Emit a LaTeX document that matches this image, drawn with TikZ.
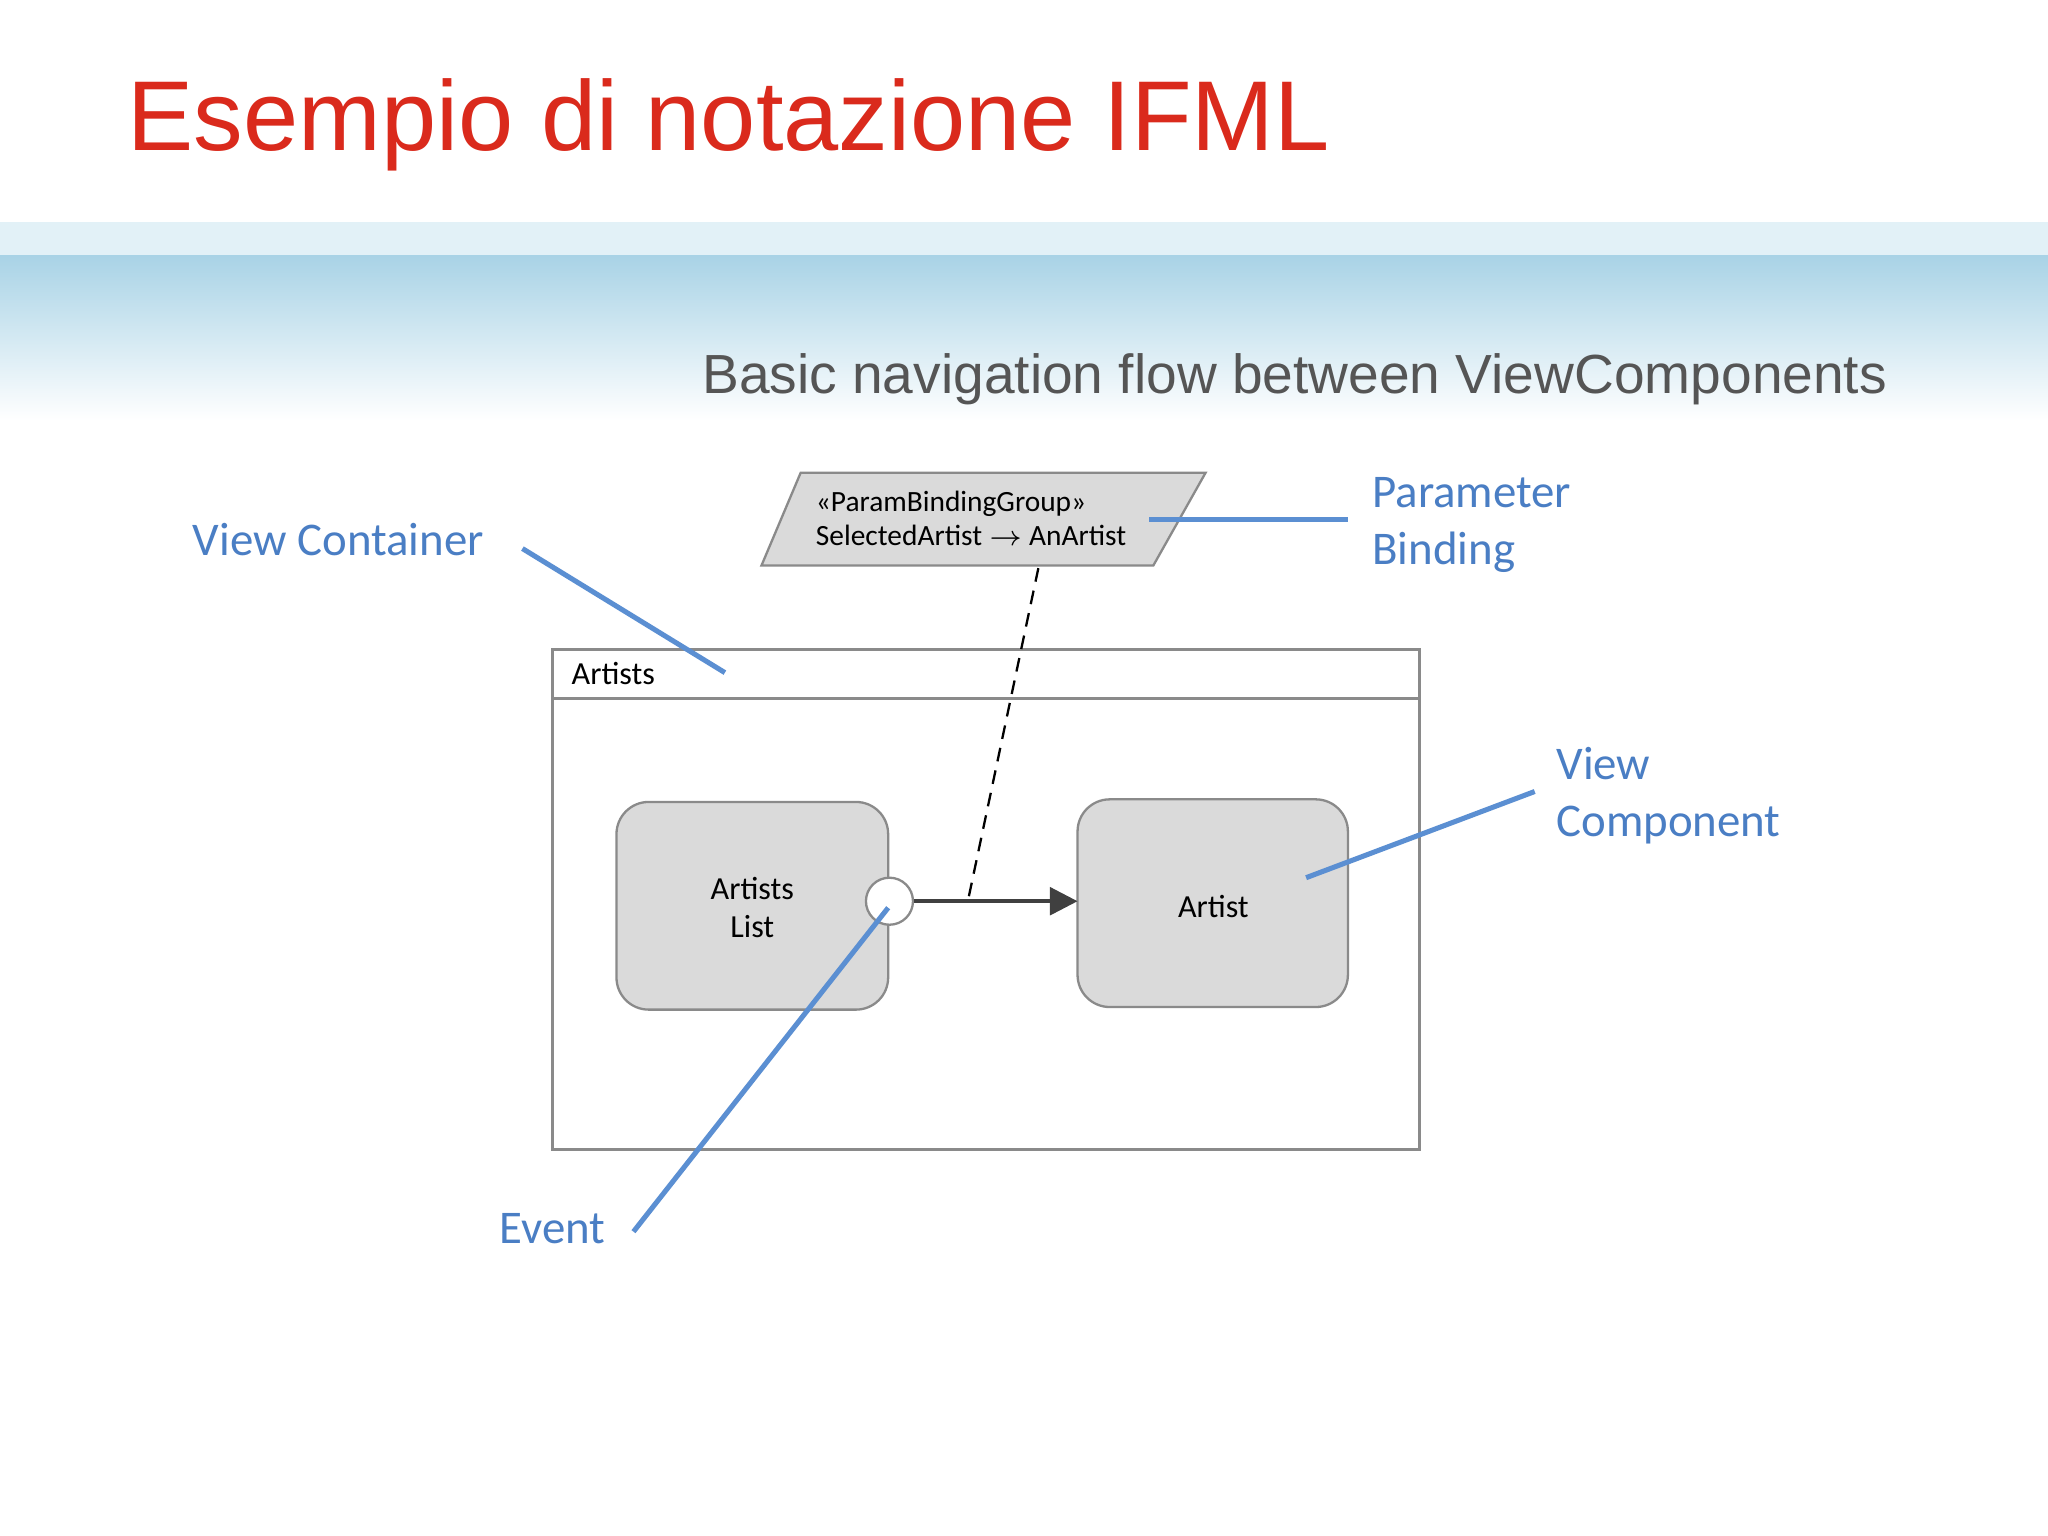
\documentclass[tikz,border=0pt]{standalone}
\usepackage{fontspec}
\setmainfont{Liberation Sans}
\newfontfamily\carl{Carlito}
\usetikzlibrary{arrows.meta}
\definecolor{ttl}{HTML}{DA2A1C}
\definecolor{sub}{HTML}{555555}
\definecolor{lbl}{HTML}{4A7EC4}
\definecolor{lnb}{HTML}{5B8FD2}
\definecolor{bandtop}{HTML}{E2F1F7}
\definecolor{band}{HTML}{A9D3E6}
\definecolor{boxf}{HTML}{DADADA}
\definecolor{boxd}{HTML}{8A8A8A}
\tikzset{
  lab/.style={font=\carl\fontsize{10.2}{12.5}\selectfont, text=lbl, align=left, anchor=west, inner sep=0},
  pointer/.style={draw=lnb, line width=1.1pt},
  vc/.style={draw=boxd, fill=boxf, rounded corners=7pt, line width=0.5pt},
  small/.style={font=\carl\fontsize{6.4}{7.4}\selectfont, inner sep=0, align=center}
}
\begin{document}
\begin{tikzpicture}[x=0.01cm,y=-0.01cm]
\useasboundingbox (0,0) rectangle (1568,1176);
\fill[white] (0,0) rectangle (1568,1176);
% band
\fill[bandtop] (0,170) rectangle (1568,196);
\shade[top color=band, bottom color=white] (0,196) rectangle (1568,322);
\node[anchor=base west, inner sep=0, text=ttl, font=\fontsize{21.6}{24}\selectfont] (title) at (97,115) {Esempio di notazione IFML};
\node[anchor=base west, inner sep=0, text=sub, font=\fontsize{12}{14}\selectfont] (subt) at (537,301) {Basic navigation flow between ViewComponents};
% parallelogram
\draw[draw=boxd, fill=boxf, line width=0.5pt] (583,433) -- (613,362) -- (923,362) -- (883,433) -- cycle;
\node[small, align=left, anchor=west] (pb) at (624,397) {«ParamBindingGroup»\\SelectedArtist $\rightarrow$ AnArtist};
% container
\draw[draw=boxd, line width=0.6pt] (423,497) rectangle (1087,880);
\draw[draw=boxd, line width=0.6pt] (423,535) -- (1087,535);
\node[small, anchor=west, font=\carl\fontsize{7}{8}\selectfont] (cont) at (437,516) {Artists};
% components
\draw[vc] (472,614) rectangle (680,773);
\node[small, font=\carl\fontsize{7}{8.2}\selectfont] (al) at (576,695) {Artists\\List};
\draw[vc] (825,612) rectangle (1032,771);
\node[small, font=\carl\fontsize{7}{8}\selectfont] (ar) at (929,694) {Artist};
\coordinate (arl) at (825,690);
\node[circle, draw=boxd, fill=white, minimum size=0.36cm, inner sep=0, line width=0.5pt] (ev) at (681,690) {};
\draw[line width=0.8pt, draw=black!75, -{Triangle[length=6pt,width=6pt]}] (ev) -- (arl);
\coordinate (d1) at (795,435);
\coordinate (d2) at (741,690);
\draw[densely dashed, line width=0.5pt] (d1) -- (d2);
% labels
\node[lab] (lvc) at (147,413) {View Container};
\node[lab] (lpb) at (1050,402) {Parameter\\Binding};
\node[lab] (lvcomp) at (1191,609) {View\\Component};
\node[lab] (lev) at (382,941) {Event};
\coordinate (p1a) at (400,420); \coordinate (p1b) at (555,515);
\coordinate (p2a) at (880,398); \coordinate (p2b) at (1032,398);
\coordinate (p3a) at (1175,606); \coordinate (p3b) at (1000,672);
\coordinate (p4a) at (485,943); \coordinate (p4b) at (680,695);
\draw[pointer] (p1a) -- (p1b);
\draw[pointer] (p2a) -- (p2b);
\draw[pointer] (p3a) -- (p3b);
\draw[pointer] (p4a) -- (p4b);
\end{tikzpicture}
\end{document}
